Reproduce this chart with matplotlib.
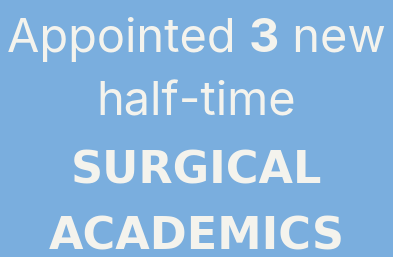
import matplotlib.pyplot as plt

bg = "#7aaede"
fg = "#f4f3ed"

# each line is a list of (text, weight) pieces
lines = [
    [("Appointed ", "normal"), ("3", "bold"), (" new", "normal")],
    [("half-time", "normal")],
    [("SURGICAL", "bold")],
    [("ACADEMICS", "bold")],
]
baselines = [52, 116, 183, 250]  # pixels from top
sizes = [33.8, 33.8, 32, 32]
families = ["Inter", "Inter", "DejaVu Sans", "DejaVu Sans"]

W, H = 393, 257
fig = plt.figure(figsize=(W / 100, H / 100), dpi=100, facecolor=bg)
renderer = fig.canvas.get_renderer()

for pieces, yb, fs, fam in zip(lines, baselines, sizes, families):
    arts = []
    for txt, wt in pieces:
        t = fig.text(0, 1 - yb / H, txt, fontsize=fs, fontweight=wt, color=fg,
                     family=fam, va="baseline", ha="left")
        arts.append(t)
    widths = [a.get_window_extent(renderer).width for a in arts]
    x = (W - sum(widths)) / 2
    for a, w in zip(arts, widths):
        a.set_x(x / W)
        x += w

fig.savefig("out.png", dpi=100, facecolor=bg)
